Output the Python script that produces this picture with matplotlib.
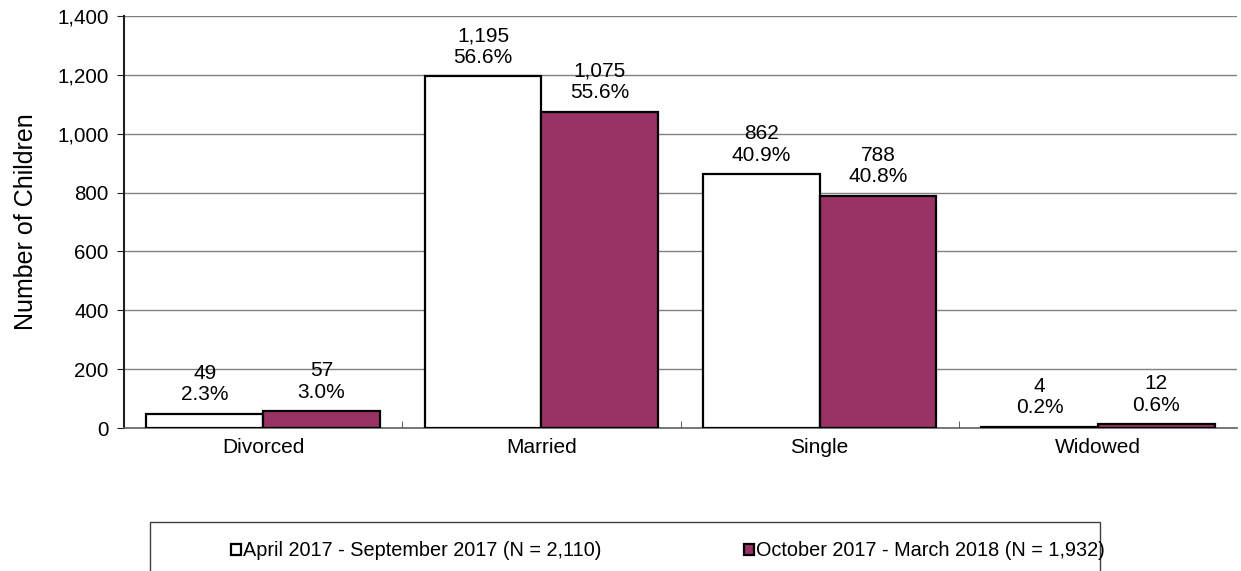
import numpy as np
import matplotlib.pyplot as plt
from matplotlib.patches import Rectangle

plt.rcParams['font.family'] = ['Liberation Sans', 'DejaVu Sans']

# Data
categories = ['Divorced', 'Married', 'Single', 'Widowed']
period1 = [49, 1195, 862, 4]
period2 = [57, 1075, 788, 12]
pct1 = ['2.3%', '56.6%', '40.9%', '0.2%']
pct2 = ['3.0%', '55.6%', '40.8%', '0.6%']
series_labels = ['April 2017 - September 2017 (N = 2,110)',
                 'October 2017 - March 2018 (N = 1,932)']

fig = plt.figure(figsize=(12.41, 5.71), dpi=100)
ax = fig.add_axes([124 / 1241, 1 - 428 / 571, 1113 / 1241, 412 / 571])

x = np.arange(len(categories))
w = 0.42
b1 = ax.bar(x - w / 2, period1, w, color='white', edgecolor='black', linewidth=1.6,
            label=series_labels[0], zorder=3)
b2 = ax.bar(x + w / 2, period2, w, color='#993366', edgecolor='black', linewidth=1.6,
            label=series_labels[1], zorder=3)

# value labels
for bars, vals, pcts in [(b1, period1, pct1), (b2, period2, pct2)]:
    for bar, v, p in zip(bars, vals, pcts):
        ax.annotate(f'{v:,}\n{p}', (bar.get_x() + bar.get_width() / 2, v),
                    xytext=(0, 7), textcoords='offset points',
                    ha='center', va='bottom', fontsize=15, linespacing=1.15)

ax.set_xlim(-0.5, len(categories) - 0.5)
ax.set_ylim(0, 1400)
ax.set_yticks(np.arange(0, 1401, 200))
ax.yaxis.set_major_formatter(plt.FuncFormatter(lambda v, _: f'{int(v):,}'))
ax.set_xticks(x)
ax.set_xticklabels(categories)
ax.set_xticks(np.arange(0.5, len(categories) - 0.5, 1), minor=True)
ax.tick_params(axis='x', which='major', length=0, labelsize=15, pad=7)
ax.tick_params(axis='x', which='minor', direction='in', length=5, color='#404040')
ax.tick_params(axis='y', length=5, labelsize=14.8, pad=6, color='#202020')
ax.set_ylabel('Number of Children', fontsize=18, labelpad=14)

ax.yaxis.grid(True, color='#808080', linewidth=1, zorder=0)
ax.set_axisbelow(True)
for s in ['top', 'right']:
    ax.spines[s].set_visible(False)
ax.spines['left'].set_color('#202020')
ax.spines['left'].set_linewidth(1.5)
ax.spines['bottom'].set_color('#606060')
ax.spines['bottom'].set_linewidth(1.2)

# legend box
fig.patches.append(Rectangle((150 / 1241, -0.05), 950 / 1241, 0.05 + 49 / 571,
                             transform=fig.transFigure, facecolor='white',
                             edgecolor='#404040', linewidth=1))
fig.legend(handles=[b1, b2], loc='center', bbox_to_anchor=(668 / 1241, 1 - 551 / 571),
           ncol=2, frameon=False, fontsize=14.3, handlelength=0.5, handleheight=0.5,
           handletextpad=0.1, columnspacing=7.2)

fig.savefig('out.png', dpi=100)
